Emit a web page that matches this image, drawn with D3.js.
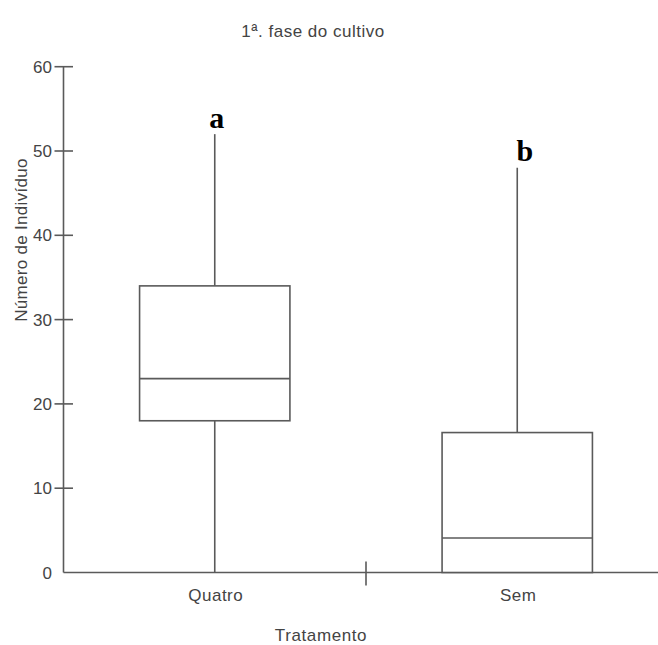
<!DOCTYPE html>
<html>
<head>
<meta charset="utf-8">
<script src="https://cdn.jsdelivr.net/npm/d3@7"></script>
<style>
  html, body { margin: 0; padding: 0; background: #fff; }
  svg { display: block; }
  text { font-family: "Liberation Sans", Arial, sans-serif; fill: #444; }
</style>
</head>
<body>
<svg id="chart" width="658" height="645"></svg>
<script>
// ---- data ----
const categories = ["Quatro", "Sem"];
const mins = [0, 0];
const q1s = [18, 0];
const medians = [23, 4.1];
const q3s = [34, 16.6];
const maxs = [52, 48];
const groupLetters = ["a", "b"];
const yTicks = [0, 10, 20, 30, 40, 50, 60];
const title = "1ª. fase do cultivo";
const xTitle = "Tratamento";
const yTitle = "Número de Indivíduo";

// ---- chart ----
const svg = d3.select("#chart");
const lineColor = "#5a5a5a";
const lw = 1.6;

const y = d3.scaleLinear().domain([0, 60]).range([572.5, 66.7]);
const x = d3.scaleBand().domain(categories).range([63.5, 668.5]).padding(0);

// y axis
const yAxis = svg.append("g");
yAxis.append("line")
  .attr("x1", 63.5).attr("x2", 63.5)
  .attr("y1", y(60)).attr("y2", y(0))
  .attr("stroke", lineColor).attr("stroke-width", lw);
yAxis.selectAll("line.tick").data(yTicks.filter(d => d > 0)).enter()
  .append("line").attr("class", "tick")
  .attr("x1", 54.5).attr("x2", 73)
  .attr("y1", d => y(d)).attr("y2", d => y(d))
  .attr("stroke", lineColor).attr("stroke-width", lw);
yAxis.selectAll("text").data(yTicks).enter()
  .append("text")
  .attr("x", 52).attr("y", d => y(d))
  .attr("dy", "0.36em")
  .attr("text-anchor", "end")
  .style("font-size", "17px")
  .text(d => d);

// x axis
svg.append("line")
  .attr("x1", 63.5).attr("x2", 668.5)
  .attr("y1", y(0)).attr("y2", y(0))
  .attr("stroke", lineColor).attr("stroke-width", lw);
// boundary tick between categories
svg.append("line")
  .attr("x1", x("Sem")).attr("x2", x("Sem"))
  .attr("y1", y(0) - 11).attr("y2", y(0) + 13)
  .attr("stroke", lineColor).attr("stroke-width", lw);
svg.selectAll("text.xlab").data(categories).enter()
  .append("text").attr("class", "xlab")
  .attr("x", d => x(d) + x.bandwidth() / 2 + 1)
  .attr("y", 600.5)
  .attr("text-anchor", "middle")
  .style("font-size", "17px")
  .style("letter-spacing", "0.5px")
  .text(d => d);

// boxes
const bw = x.bandwidth() * 0.497;
const boxes = svg.selectAll("g.box").data(categories).enter()
  .append("g").attr("class", "box");
boxes.each(function(cat, i) {
  const g = d3.select(this);
  const cx = x(cat) + x.bandwidth() / 2;
  // whiskers
  g.append("line").attr("x1", cx).attr("x2", cx)
    .attr("y1", y(maxs[i])).attr("y2", y(q3s[i]))
    .attr("stroke", lineColor).attr("stroke-width", lw);
  g.append("line").attr("x1", cx).attr("x2", cx)
    .attr("y1", y(q1s[i])).attr("y2", y(mins[i]))
    .attr("stroke", lineColor).attr("stroke-width", lw);
  // box
  g.append("rect")
    .attr("x", cx - bw / 2).attr("width", bw)
    .attr("y", y(q3s[i])).attr("height", y(q1s[i]) - y(q3s[i]))
    .attr("fill", "#fff").attr("stroke", lineColor).attr("stroke-width", lw);
  // median
  g.append("line")
    .attr("x1", cx - bw / 2).attr("x2", cx + bw / 2)
    .attr("y1", y(medians[i])).attr("y2", y(medians[i]))
    .attr("stroke", lineColor).attr("stroke-width", lw);
  // letter
  g.append("text")
    .attr("x", cx + (i === 0 ? 2 : 7.5))
    .attr("y", y(maxs[i]) - 6.5)
    .attr("text-anchor", "middle")
    .style("font-family", "'Liberation Serif', 'Times New Roman', serif")
    .style("font-weight", "bold")
    .style("font-size", "30px")
    .style("fill", "#000")
    .text(groupLetters[i]);
});

// titles
svg.append("text")
  .attr("x", 313).attr("y", 36.5)
  .attr("text-anchor", "middle")
  .style("font-size", "17px")
  .style("letter-spacing", "0.5px")
  .text(title);
svg.append("text")
  .attr("x", 321).attr("y", 640.5)
  .attr("text-anchor", "middle")
  .style("font-size", "17px")
  .style("letter-spacing", "0.6px")
  .text(xTitle);
svg.append("text")
  .attr("transform", "translate(27,240) rotate(-90)")
  .attr("text-anchor", "middle")
  .style("font-size", "17px")
  .style("letter-spacing", "0.3px")
  .text(yTitle);
</script>
</body>
</html>
